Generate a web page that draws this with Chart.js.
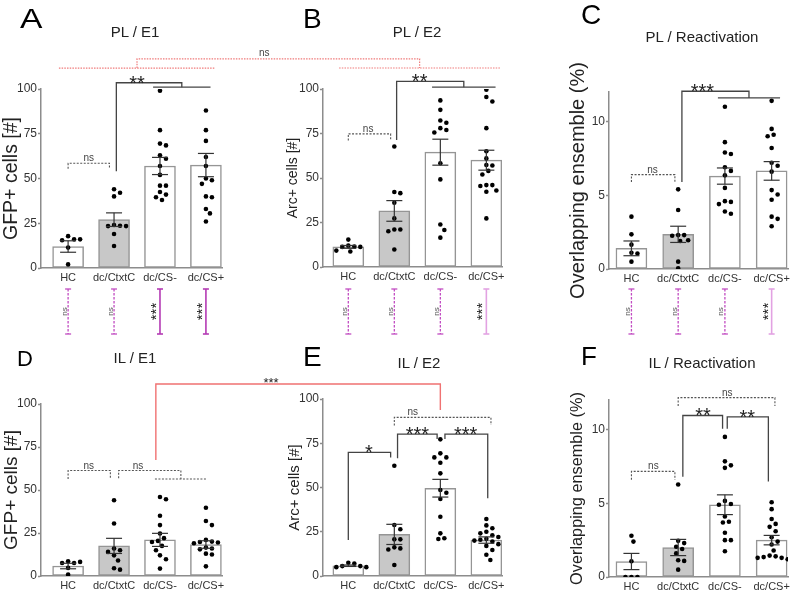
<!DOCTYPE html>
<html>
<head>
<meta charset="utf-8">
<script src="https://cdn.jsdelivr.net/npm/chart.js@4.4.0/dist/chart.umd.min.js"></script>
<style>
body { margin: 0; background: #fff; width: 800px; height: 594px; position: relative; overflow: hidden; font-family: "Liberation Sans", Arial, sans-serif; }
canvas { position: absolute; }
.lt { position: absolute; font-size: 28px; line-height: 1; color: #000; transform-origin: left top; }
.tt { position: absolute; font-size: 15px; line-height: 1; color: #222; transform: translateX(-50%); white-space: nowrap; }
</style>
</head>
<body>
<script>
const groups = ['HC', 'dc/CtxtC', 'dc/CS-', 'dc/CS+'];
const barFill = ['#ffffff', '#c8c8c8', '#ffffff', '#ffffff'];

// PL / E1
const A_mean = [12, 27, 57, 57.5];
const A_sem = [3.2, 3.8, 4.8, 6.5];
const A_pts = [
    [17.8, 16, 15.5, 16, 11.4, 2],
    [44, 42, 40, 24, 23.6, 23.4, 23.4, 19, 12.3],
    [99, 77, 69.5, 68.5, 63, 61, 57, 52, 46, 46, 42.5, 41, 39.5, 38],
    [88, 77, 71, 62, 57, 50, 49, 47, 40, 39.5, 33, 30.5, 26]
];
// PL / E2
const B_mean = [11.3, 31.5, 64.5, 60];
const B_sem = [0.8, 5.8, 7.3, 5.6];
const B_pts = [
    [15.4, 12, 11.5, 11.3, 11.3, 9.2, 8.7],
    [67.7, 42.1, 41.5, 36.1, 27.3, 21.1, 21.1, 20.1, 9.8],
    [93.6, 88.3, 82.3, 81, 78, 77, 75.6, 58.3, 49.2, 23.9, 20.8, 16.5],
    [99.6, 95.5, 93, 78, 65, 61, 57.3, 57, 54, 52, 46, 46, 45.5, 43, 42.3, 27.3]
];
// PL / Reactivation
const C_mean = [1.4, 2.35, 6.3, 6.65];
const C_sem = [0.5, 0.55, 0.55, 0.63];
const C_pts = [
    [3.55, 2.35, 1.65, 1.1, 1.05, 0.5],
    [5.4, 4.0, 2.3, 2.3, 2.25, 1.95, 1.9, 0.5, 0.05],
    [11.0, 8.6, 7.9, 7.8, 6.9, 6.65, 6.35, 5.5, 4.6, 4.55, 4.4, 3.9, 3.75],
    [11.4, 9.5, 9.1, 9.0, 8.2, 7.2, 7.0, 6.6, 5.35, 5.05, 4.7, 3.55, 3.4, 2.9]
];
// IL / E1
const D_mean = [5.8, 17.5, 21, 18.3];
const D_sem = [1.6, 4.4, 3.8, 2.2];
const D_pts = [
    [8.6, 7.6, 7.6, 8.2, 4.7, 0.8],
    [44, 30.5, 16, 15, 14, 12, 9, 4.5, 3.7],
    [45.9, 44.6, 35, 29.6, 24.7, 22, 20.4, 19.8, 17.5, 15, 12, 9.7, 4.3],
    [39.7, 32, 29.6, 21, 20, 19.8, 19.5, 19, 16.5, 16, 15.5, 13, 12.5, 5.6]
];
// IL / E2
const E_mean = [5.8, 23.5, 49.6, 20.3];
const E_sem = [0.4, 5.7, 5, 1.8];
const E_pts = [
    [7.5, 7, 5.6, 5.6, 5, 5],
    [62.3, 28.8, 26.4, 20.7, 20.7, 16.2, 15.6, 15, 6.2],
    [77.2, 69.3, 67, 67, 64, 58, 48.6, 47, 43.5, 33.5, 24.1, 21.3, 20.9],
    [32.2, 28.6, 27, 25, 24.1, 23, 22, 21, 20.5, 20, 19.5, 18, 17, 14.7, 12, 9]
];
// IL / Reactivation
const F_mean = [1.05, 2.0, 4.9, 2.5];
const F_sem = [0.55, 0.55, 0.67, 0.32];
const F_pts = [
    [2.8, 2.4, 1.07, 0, 0, 0],
    [6.27, 2.45, 2.3, 2.05, 1.9, 1.6, 1.14, 1.09, 0.5],
    [9.5, 7.84, 7.57, 7.4, 5.16, 4.95, 4.9, 4.1, 3.75, 3.7, 3.0, 2.5, 2.5, 1.75],
    [5.07, 4.6, 3.93, 3.6, 3.4, 3.1, 2.7, 2.4, 2.2, 1.8, 1.45, 1.4, 1.35, 1.3, 1.3, 1.2]
];

// brackets: [x1, x2, top, bottom1, bottom2, labelX, label, dashed]
const A_brk = [[0, 0.9, 58.5, 55.5, 55.5, 0.45, 'ns', 1]];
const B_brk = [[0, 0.92, 74.8, 71, 71, 0.43, 'ns', 1]];
const C_brk = [[0, 0.93, 6.4, 5.9, 5.9, 0.45, 'ns', 1]];
const D_brk = [[0, 0.92, 61.3, 56.4, 56.4, 0.45, 'ns', 1]];
const E_brk = [
    [0, 0.92, 69.9, 20.3, 67, 0.45, '*', 0],
    [1.07, 1.93, 80.2, 66.5, 77.4, 1.5, '***', 0],
    [2.1, 3.03, 80.2, 77.4, 43.9, 2.55, '***', 0],
    [1.0, 3.1, 89.6, 85, 85.3, 1.4, 'ns', 1]
];
const F_brk = [
    [0, 0.93, 7.16, 6.6, 6.6, 0.47, 'ns', 1],
    [1.1, 1.95, 10.95, 6.8, 10.05, 1.53, '**', 0],
    [2.05, 2.93, 10.86, 10.05, 6.48, 2.48, '**', 0],
    [1.0, 3.07, 12.16, 11.6, 11.6, 2.05, 'ns', 1]
];
// group brackets: [x1, gx1, gx2, top, sub, bottom1, labelX, label, dashed]
const A_grp = [[1.05, 1.85, 3.1, 103.5, 101, 54, 1.5, '**', 0]];
const B_grp = [[1.05, 1.82, 3.2, 104.3, 101, 71.4, 1.55, '**', 0]];
const C_grp = [[1.08, 1.85, 3.18, 12.05, 11.6, 5.9, 1.52, '***', 0]];
const D_grp = [[1.1, 1.89, 3.02, 61.3, 56.4, 56.8, 1.52, 'ns', 1]];

// PL vs IL per group (between the rows)
const A_cmp = ['ns', 'ns', '***', '***'];
const B_cmp = ['ns', 'ns', 'ns', '***'];
const C_cmp = ['ns', 'ns', 'ns', '***'];

// across panels: [panelA, xa0, xa1, ya, panelB, xb0, xb1, yb, top, label, dashed, labelPos]
const crossBrk = [
    [0, -0.2, 3.2, 111.7, 1, -0.2, 3.3, 111.8, 116.8, 'ns', 1, 0.45],
    [3, 1.91, 1.91, 67.4, 4, 2.0, 2.0, 93.8, 111.6, '***', 0, 0.405]
];

const panels = [
    {x: 0, y: 0, w: 270, h: 340, padL: 0, left: 41, right: 222, top: 89, bottom: 268, xmin: -0.59, xmax: 3.35, ymax: 100, step: 25, ytitle: 'GFP+ cells [#]', tsize: 19.5, mean: A_mean, sem: A_sem, pts: A_pts, brk: A_brk, grp: A_grp, cmp: A_cmp, cmpColor: '#b43ab4'},
    {x: 270, y: 0, w: 260, h: 340, padL: 15, left: 53, right: 232, top: 89, bottom: 267, xmin: -0.55, xmax: 3.34, ymax: 100, step: 25, ytitle: 'Arc+ cells [#]', tsize: 14, mean: B_mean, sem: B_sem, pts: B_pts, brk: B_brk, grp: B_grp, cmp: B_cmp, cmpColor: '#e2a2e2'},
    {x: 530, y: 0, w: 270, h: 340, padL: 36, left: 79, right: 258, top: 92, bottom: 269, xmin: -0.48, xmax: 3.35, ymax: 12, step: 5, ytitle: 'Overlapping ensemble (%)', tsize: 20, mean: C_mean, sem: C_sem, pts: C_pts, brk: C_brk, grp: C_grp, cmp: C_cmp, cmpColor: '#e2a2e2'},
    {x: 0, y: 340, w: 270, h: 254, padL: 0, left: 41, right: 222, top: 64, bottom: 236, xmin: -0.59, xmax: 3.35, ymax: 100, step: 25, ytitle: 'GFP+ cells [#]', tsize: 19, mean: D_mean, sem: D_sem, pts: D_pts, brk: D_brk, grp: D_grp},
    {x: 270, y: 340, w: 260, h: 254, padL: 16, left: 53, right: 232, top: 59, bottom: 236, xmin: -0.55, xmax: 3.34, ymax: 100, step: 25, ytitle: 'Arc+ cells [#]', tsize: 15, mean: E_mean, sem: E_sem, pts: E_pts, brk: E_brk, grp: []},
    {x: 530, y: 340, w: 270, h: 254, padL: 38, left: 79, right: 258, top: 60, bottom: 237, xmin: -0.48, xmax: 3.35, ymax: 12, step: 5, ytitle: 'Overlapping ensemble (%)', tsize: 16.3, mean: F_mean, sem: F_sem, pts: F_pts, brk: F_brk, grp: []}
];

Chart.defaults.font.family = '"Liberation Sans", Arial, sans-serif';

// simple beeswarm so dots don't sit on top of each other
function swarm(vals, pxY, pxX) {
    const placed = [];
    return vals.map(v => {
        const y = v * pxY;
        for (let k = 0; ; k++) {
            const dx = (k % 2 ? 1 : -1) * Math.ceil(k / 2) * 2;
            if (placed.every(q => (q[0] - dx) ** 2 + (q[1] - y) ** 2 >= 36)) {
                placed.push([dx, y]);
                return dx / pxX;
            }
        }
    });
}

function path(ctx, pts) {
    ctx.beginPath();
    pts.forEach((q, i) => i ? ctx.lineTo(q[0], q[1]) : ctx.moveTo(q[0], q[1]));
    ctx.stroke();
}

function label(ctx, txt, x, y, size) {
    ctx.textAlign = 'center';
    ctx.textBaseline = 'alphabetic';
    if (txt === 'ns') {
        ctx.font = '10px "Liberation Sans", Arial, sans-serif';
        ctx.fillStyle = '#444';
        ctx.fillText(txt, x, y - 2);
    } else {
        size = size || 20;
        ctx.font = size + 'px "Liberation Sans", Arial, sans-serif';
        ctx.fillStyle = '#222';
        ctx.fillText(txt, x, y + size * 0.4 - 1);
    }
}

function lineStyle(ctx, dashed) {
    ctx.setLineDash(dashed ? [2, 1.5] : []);
    ctx.strokeStyle = dashed ? '#555' : '#444';
    ctx.lineWidth = dashed ? 1.1 : 1.3;
}

function drawAnnot(chart, p) {
    const ctx = chart.ctx;
    const X = v => chart.scales.x.getPixelForValue(v);
    const Y = v => chart.scales.y.getPixelForValue(v);
    ctx.save();

    // error bars
    ctx.strokeStyle = '#333';
    ctx.lineWidth = 1.2;
    p.mean.forEach((m, i) => {
        const cx = X(i), t = Y(m + p.sem[i]), b = Y(m - p.sem[i]);
        path(ctx, [[cx, t], [cx, b]]);
        path(ctx, [[cx - 8, t], [cx + 8, t]]);
        path(ctx, [[cx - 8, b], [cx + 8, b]]);
    });

    p.brk.forEach(b => {
        lineStyle(ctx, b[7]);
        path(ctx, [[X(b[0]), Y(b[3])], [X(b[0]), Y(b[2])], [X(b[1]), Y(b[2])], [X(b[1]), Y(b[4])]]);
        label(ctx, b[6], X(b[5]), Y(b[2]));
    });
    p.grp.forEach(g => {
        const mid = (g[1] + g[2]) / 2;
        lineStyle(ctx, g[8]);
        path(ctx, [[X(g[0]), Y(g[5])], [X(g[0]), Y(g[3])], [X(mid), Y(g[3])], [X(mid), Y(g[4])]]);
        path(ctx, [[X(g[1]), Y(g[4])], [X(g[2]), Y(g[4])]]);
        label(ctx, g[7], X(g[6]), Y(g[3]));
    });

    // PL vs IL comparison marks under the top row
    if (p.cmp) {
        const y1 = 289, y2 = 334;
        p.cmp.forEach((lab, i) => {
            const cx = X(i);
            const ns = lab === 'ns';
            ctx.setLineDash(ns ? [2.5, 1.5] : []);
            ctx.strokeStyle = ns ? '#c24cc2' : p.cmpColor;
            ctx.lineWidth = ns ? 1.3 : 1.6;
            path(ctx, [[cx, y1], [cx, y2]]);
            ctx.setLineDash([]);
            path(ctx, [[cx - 3, y1], [cx + 3, y1]]);
            path(ctx, [[cx - 3, y2], [cx + 3, y2]]);
            ctx.save();
            ctx.translate(cx - (ns ? 1.5 : 5), (y1 + y2) / 2);
            ctx.rotate(-Math.PI / 2);
            ctx.textAlign = 'center';
            if (ns) {
                ctx.font = '8px "Liberation Sans", Arial, sans-serif';
                ctx.fillStyle = '#555';
                ctx.fillText(lab, 0, 0);
            } else {
                ctx.font = '15px "Liberation Sans", Arial, sans-serif';
                ctx.fillStyle = '#222';
                ctx.fillText(lab, 0, 6);
            }
            ctx.restore();
        });
    }
    ctx.restore();
}

function makePanel(p, idx) {
    const cv = document.createElement('canvas');
    cv.width = p.w;
    cv.height = p.h;
    cv.style.left = p.x + 'px';
    cv.style.top = p.y + 'px';
    document.body.appendChild(cv);

    const pxY = (p.bottom - p.top) / p.ymax;
    const pxX = (p.right - p.left) / (p.xmax - p.xmin);
    const dots = [];
    p.pts.forEach((vals, g) => {
        swarm(vals, pxY, pxX).forEach((dx, k) => dots.push({x: g + dx, y: vals[k]}));
    });

    return new Chart(cv, {
        type: 'bar',
        data: {
            datasets: [{
                type: 'bar',
                data: p.mean.map((m, i) => ({x: i, y: m})),
                backgroundColor: barFill,
                borderColor: '#959595',
                borderWidth: 1.5,
                borderSkipped: false,
                barThickness: 31,
                order: 2
            }, {
                type: 'scatter',
                data: dots,
                pointRadius: 2.3,
                pointBackgroundColor: '#000',
                pointBorderWidth: 0,
                order: 1
            }]
        },
        options: {
            responsive: false,
            animation: false,
            devicePixelRatio: 1,
            layout: {padding: {left: p.padL, right: p.w - p.right, top: p.top, bottom: p.h - p.bottom - 16}},
            plugins: {legend: {display: false}, tooltip: {enabled: false}},
            scales: {
                x: {
                    type: 'linear',
                    min: p.xmin,
                    max: p.xmax,
                    offset: false,
                    afterFit: s => { s.height = 16; },
                    afterBuildTicks: s => { s.ticks = groups.map((g, i) => ({value: i})); },
                    grid: {display: false, drawTicks: false},
                    border: {color: '#8c8c8c', width: 1.5},
                    ticks: {callback: v => groups[v], font: {size: 11}, color: '#333', padding: 3, autoSkip: false, maxRotation: 0}
                },
                y: {
                    min: 0,
                    max: p.ymax,
                    afterFit: s => { s.width = p.left - p.padL; },
                    ticks: {stepSize: p.step, includeBounds: false, font: {size: 12}, color: '#333', padding: 1},
                    grid: {drawOnChartArea: false, tickLength: 3, color: '#8c8c8c', tickWidth: 1.5},
                    border: {color: '#8c8c8c', width: 1.5},
                    title: {display: true, text: p.ytitle, font: {size: p.tsize}, color: '#222', padding: 0}
                }
            }
        },
        plugins: [{id: 'annot' + idx, afterDraw: c => drawAnnot(c, p)}]
    });
}

const charts = panels.map(makePanel);

// red brackets that join two panels
const ov = document.createElement('canvas');
ov.width = 800;
ov.height = 594;
ov.style.left = '0px';
ov.style.top = '0px';
document.body.appendChild(ov);
const octx = ov.getContext('2d');
crossBrk.forEach(c => {
    const pa = panels[c[0]], pb = panels[c[4]], ca = charts[c[0]], cb = charts[c[4]];
    const ax = v => pa.x + ca.scales.x.getPixelForValue(v), ay = v => pa.y + ca.scales.y.getPixelForValue(v);
    const bx = v => pb.x + cb.scales.x.getPixelForValue(v), by = v => pb.y + cb.scales.y.getPixelForValue(v);
    const xa = ax((c[1] + c[2]) / 2), xb = bx((c[5] + c[6]) / 2), top = ay(c[8]);
    octx.strokeStyle = c[10] ? '#ef7a7a' : '#f07272';
    octx.lineWidth = c[10] ? 1.2 : 1.4;
    octx.setLineDash(c[10] ? [1.5, 1.2] : []);
    if (c[1] !== c[2]) path(octx, [[ax(c[1]), ay(c[3])], [ax(c[2]), ay(c[3])]]);
    if (c[5] !== c[6]) path(octx, [[bx(c[5]), by(c[7])], [bx(c[6]), by(c[7])]]);
    path(octx, [[xa, ay(c[3])], [xa, top], [xb, top], [xb, by(c[7])]]);
    label(octx, c[9], xa + (xb - xa) * c[11], top - 1, 13);
});

[['A', 20, 5, 28, 1.2], ['B', 303, 5, 28, 1], ['C', 581, 1, 28, 1], ['D', 17, 348, 22, 1], ['E', 303, 343, 28, 1], ['F', 581, 343, 26, 1]].forEach(t => {
    const d = document.createElement('div');
    d.className = 'lt';
    d.textContent = t[0];
    d.style.left = t[1] + 'px';
    d.style.top = t[2] + 'px';
    d.style.fontSize = t[3] + 'px';
    d.style.transform = 'scaleX(' + t[4] + ')';
    document.body.appendChild(d);
});
[['PL / E1', 135, 24], ['PL / E2', 417, 24], ['PL / Reactivation', 702, 29], ['IL / E1', 135, 350], ['IL / E2', 419, 355], ['IL / Reactivation', 702, 355]].forEach(t => {
    const d = document.createElement('div');
    d.className = 'tt';
    d.textContent = t[0];
    d.style.left = t[1] + 'px';
    d.style.top = t[2] + 'px';
    document.body.appendChild(d);
});
</script>
</body>
</html>
